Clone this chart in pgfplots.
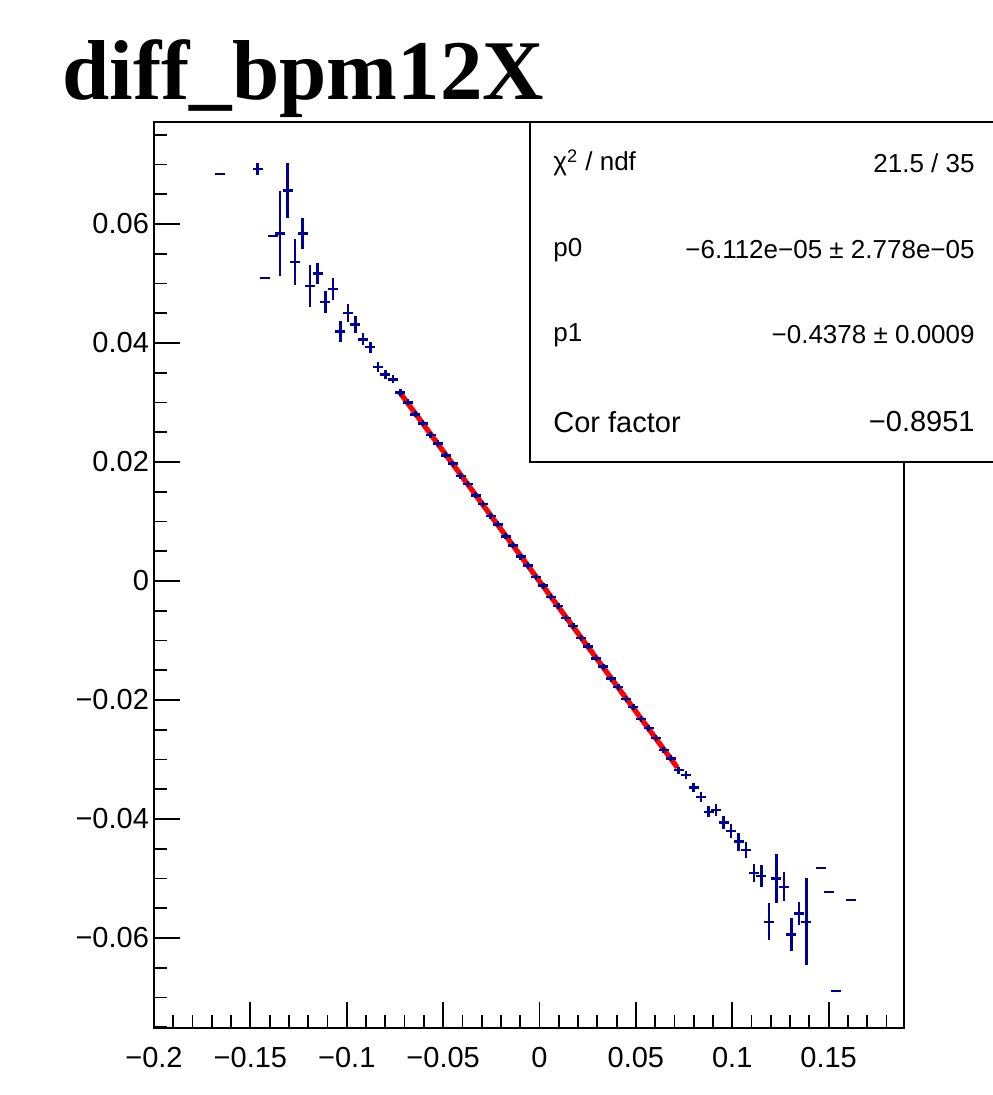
\documentclass[border=0pt]{standalone}
\usepackage{fontspec}
\setmainfont{Liberation Sans}
\newfontfamily\titlefont{Liberation Serif}
\usepackage{pgfplots}
\usepackage{pgfplotstable}
\pgfplotsset{compat=1.18}
\definecolor{rootblue}{RGB}{0,0,150}
\pgfplotstableread{
x y ex ey
-0.16575 0.0684 0.00195 0
-0.14625 0.0692 0.00195 0.0008
-0.14235 0.0509 0.00195 0
-0.13845 0.0580 0.00195 0
-0.13455 0.0584 0.00195 0.0069
-0.13065 0.0656 0.00195 0.0044
-0.12675 0.0536 0.00195 0.0036
-0.12285 0.0584 0.00195 0.0024
-0.11895 0.0496 0.00195 0.0033
-0.11505 0.0517 0.00195 0.0016
-0.11115 0.0469 0.00195 0.0017
-0.10725 0.0491 0.00195 0.0016
-0.10335 0.0419 0.00195 0.0016
-0.09945 0.0450 0.00195 0.0013
-0.09555 0.0431 0.00195 0.0012
-0.09165 0.0406 0.00195 0.0008
-0.08775 0.0393 0.00195 0.0007
-0.08385 0.0360 0.00195 0.0006
-0.07995 0.0347 0.00195 0.0005
-0.07605 0.0339 0.00195 0.0005
-0.07215 0.0317 0.00195 0.0004
-0.06825 0.0300 0.00195 0.0003
-0.06435 0.0280 0.00195 0.0003
-0.06045 0.0265 0.00195 0.0003
-0.05655 0.0245 0.00195 0.0003
-0.05265 0.0231 0.00195 0.0003
-0.04875 0.0211 0.00195 0.0003
-0.04485 0.0197 0.00195 0.0003
-0.04095 0.0176 0.00195 0.0003
-0.03705 0.0163 0.00195 0.0003
-0.03315 0.0144 0.00195 0.0003
-0.02925 0.0129 0.00195 0.0003
-0.02535 0.0109 0.00195 0.0003
-0.02145 0.0095 0.00195 0.0003
-0.01755 0.0075 0.00195 0.0003
-0.01365 0.0060 0.00195 0.0003
-0.00975 0.0041 0.00195 0.0003
-0.00585 0.0026 0.00195 0.0003
-0.00195 0.0007 0.00195 0.0003
0.00195 -0.0008 0.00195 0.0003
0.00585 -0.0027 0.00195 0.0003
0.00975 -0.0042 0.00195 0.0003
0.01365 -0.0062 0.00195 0.0003
0.01755 -0.0076 0.00195 0.0003
0.02145 -0.0096 0.00195 0.0003
0.02535 -0.0110 0.00195 0.0003
0.02925 -0.0130 0.00195 0.0003
0.03315 -0.0144 0.00195 0.0003
0.03705 -0.0164 0.00195 0.0003
0.04095 -0.0178 0.00195 0.0003
0.04485 -0.0198 0.00195 0.0003
0.04875 -0.0212 0.00195 0.0003
0.05265 -0.0232 0.00195 0.0003
0.05655 -0.0247 0.00195 0.0003
0.06045 -0.0264 0.00195 0.0003
0.06435 -0.0284 0.00195 0.0003
0.06825 -0.0298 0.00195 0.0003
0.07215 -0.0318 0.00195 0.0004
0.07605 -0.0326 0.00195 0.0005
0.07995 -0.0347 0.00195 0.0005
0.08385 -0.0363 0.00195 0.0006
0.08775 -0.0388 0.00195 0.0007
0.09165 -0.0385 0.00195 0.0008
0.09555 -0.0406 0.00195 0.0009
0.09945 -0.0420 0.00195 0.0010
0.10335 -0.0438 0.00195 0.0013
0.10725 -0.0452 0.00195 0.0012
0.11115 -0.0491 0.00195 0.0013
0.11505 -0.0496 0.00195 0.0017
0.11895 -0.0573 0.00195 0.0029
0.12285 -0.0500 0.00195 0.0039
0.12675 -0.0514 0.00195 0.0022
0.13065 -0.0594 0.00195 0.0025
0.13455 -0.0559 0.00195 0.0017
0.13845 -0.0573 0.00195 0.0071
0.14625 -0.0482 0.00195 0
0.15015 -0.0523 0.00195 0
0.15405 -0.0689 0.00195 0
0.16185 -0.0536 0.00195 0
}\prof
\begin{document}
\begin{tikzpicture}[x=1pt,y=1pt]
\useasboundingbox (0,0) rectangle (496,547.5);
\begin{axis}[
  at={(77pt,33.5pt)}, anchor=south west,
  scale only axis, width=375pt, height=453pt,
  xmin=-0.2, xmax=0.1891, ymin=-0.07513, ymax=0.07714,
  axis line style={line width=1pt},
  tick align=inside,
  xtick pos=bottom, ytick pos=left,
  scaled x ticks=false, scaled y ticks=false,
  xtick={-0.2,-0.15,-0.1,-0.05,0,0.05,0.1,0.15},
  xticklabels={−0.2,−0.15,−0.1,−0.05,0,0.05,0.1,0.15},
  minor xtick={-0.19,-0.18,-0.17,-0.16,-0.14,-0.13,-0.12,-0.11,-0.09,-0.08,-0.07,-0.06,-0.04,-0.03,-0.02,-0.01,0.01,0.02,0.03,0.04,0.06,0.07,0.08,0.09,0.11,0.12,0.13,0.14,0.16,0.17,0.18},
  ytick={-0.06,-0.04,-0.02,0,0.02,0.04,0.06},
  yticklabels={−0.06,−0.04,−0.02,0,0.02,0.04,0.06},
  minor ytick={-0.075,-0.07,-0.065,-0.055,-0.05,-0.045,-0.035,-0.03,-0.025,-0.015,-0.01,-0.005,0.005,0.01,0.015,0.025,0.03,0.035,0.045,0.05,0.055,0.065,0.07,0.075},
  major tick length=13pt, minor tick length=6.5pt,
  tick style={black, line width=0.9pt},
  ticklabel style={font=\fontsize{14.5}{16}\selectfont},
  xticklabel style={yshift=-6pt},
  yticklabel style={xshift=1pt},
]
\addplot[red, line width=2.6pt] coordinates {(-0.0725,0.03168) (0.0715,-0.03136)};
\addplot[rootblue, only marks, mark=*, mark size=0pt, mark options={draw=none, fill=none},
  error bars/.cd, x dir=both, x explicit, y dir=both, y explicit,
  error mark=none, error bar style={rootblue, line width=1.25pt, line cap=rect}]
  table[x=x, y=y, x error=ex, y error=ey] {\prof};
\end{axis}
\draw[line width=1pt, fill=white] (265,316.5) rectangle (505,486.5);
\node[anchor=west, inner sep=0, font=\fontsize{13}{15}\selectfont] at (276.5,466) {χ\textsuperscript{2} / ndf};
\node[anchor=east, inner sep=0, font=\fontsize{13}{15}\selectfont] at (487.5,466) {21.5 / 35};
\node[anchor=west, inner sep=0, font=\fontsize{13}{15}\selectfont] at (276.5,422.5) {p0};
\node[anchor=east, inner sep=0, font=\fontsize{13}{15}\selectfont] at (487.5,422.5) {−6.112e−05 ± 2.778e−05};
\node[anchor=west, inner sep=0, font=\fontsize{13}{15}\selectfont] at (276.5,380) {p1};
\node[anchor=east, inner sep=0, font=\fontsize{13}{15}\selectfont] at (487.5,380) {−0.4378 ± 0.0009};
\node[anchor=west, inner sep=0, font=\fontsize{14.5}{16}\selectfont] at (276.5,336.5) {Cor factor};
\node[anchor=east, inner sep=0, font=\fontsize{14.5}{16}\selectfont] at (487.5,336.5) {−0.8951};
\node[anchor=base west, inner sep=0] at (31,497.5) {\titlefont\fontsize{42.5}{48}\selectfont\bfseries diff\_bpm12X};
\end{tikzpicture}
\end{document}
